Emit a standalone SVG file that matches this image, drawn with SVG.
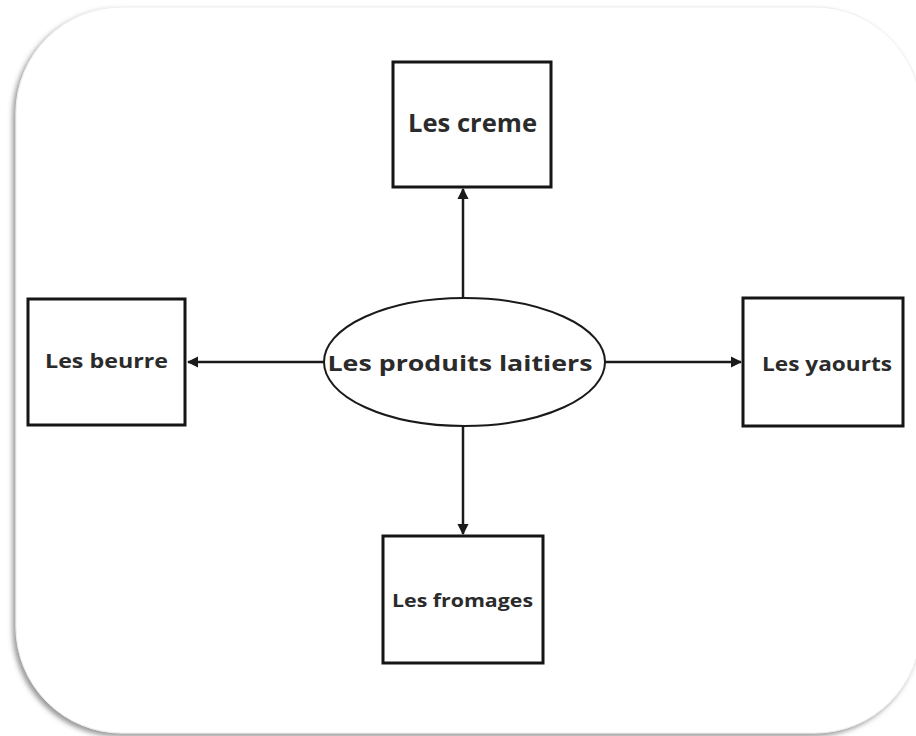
<svg xmlns="http://www.w3.org/2000/svg" width="916" height="736" viewBox="0 0 916 736">
<defs>
<filter id="sh" x="-5%" y="-5%" width="110%" height="110%">
<feDropShadow dx="-3" dy="3" stdDeviation="2.5" flood-color="#555" flood-opacity="0.6"/>
</filter>
<marker id="ah" viewBox="0 0 10 10" refX="9" refY="5" markerWidth="4.5" markerHeight="4.5" orient="auto" markerUnits="strokeWidth">
<path d="M0,0 L10,5 L0,10 z" fill="#1a1a1a"/>
</marker>
<style>
.box{fill:#fff;stroke:#151515;stroke-width:3}
.lbl{font-family:"Open Sans","Noto Sans",sans-serif;font-weight:bold;fill:#2b2b2b;text-anchor:middle}
.con{stroke:#1a1a1a;stroke-width:2.5;fill:none;marker-end:url(#ah)}
</style>
</defs>
<rect width="916" height="736" fill="#fff"/>
<rect x="16" y="7" width="905" height="726" rx="106" ry="106" fill="#fff" stroke="#eeeeee" stroke-width="1" filter="url(#sh)"/>
<g id="connectors">
<line class="con" x1="463" y1="298" x2="463" y2="189"/>
<line class="con" x1="463" y1="426" x2="463" y2="534"/>
<line class="con" x1="324" y1="362" x2="188" y2="362"/>
<line class="con" x1="605" y1="362" x2="741" y2="362"/>
</g>
<g id="center">
<ellipse cx="464.5" cy="362" rx="140.5" ry="64" fill="#fff" stroke="#1a1a1a" stroke-width="2"/>
<text class="lbl" x="460" y="371" font-size="21.5" textLength="265" lengthAdjust="spacingAndGlyphs">Les produits laitiers</text>
</g>
<g id="creme">
<rect class="box" x="393" y="62" width="158" height="125"/>
<text class="lbl" x="472.5" y="132" font-size="25" textLength="129" lengthAdjust="spacingAndGlyphs">Les creme</text>
</g>
<g id="beurre">
<rect class="box" x="28" y="299" width="157" height="126"/>
<text class="lbl" x="106.5" y="368" font-size="20" textLength="123" lengthAdjust="spacingAndGlyphs">Les beurre</text>
</g>
<g id="yaourts">
<rect class="box" x="743" y="298" width="160" height="128"/>
<text class="lbl" x="827" y="371" font-size="20" textLength="130" lengthAdjust="spacingAndGlyphs">Les yaourts</text>
</g>
<g id="fromages">
<rect class="box" x="383" y="536" width="160" height="127"/>
<text class="lbl" x="462.5" y="607" font-size="17.5" textLength="141" lengthAdjust="spacingAndGlyphs">Les fromages</text>
</g>
</svg>
